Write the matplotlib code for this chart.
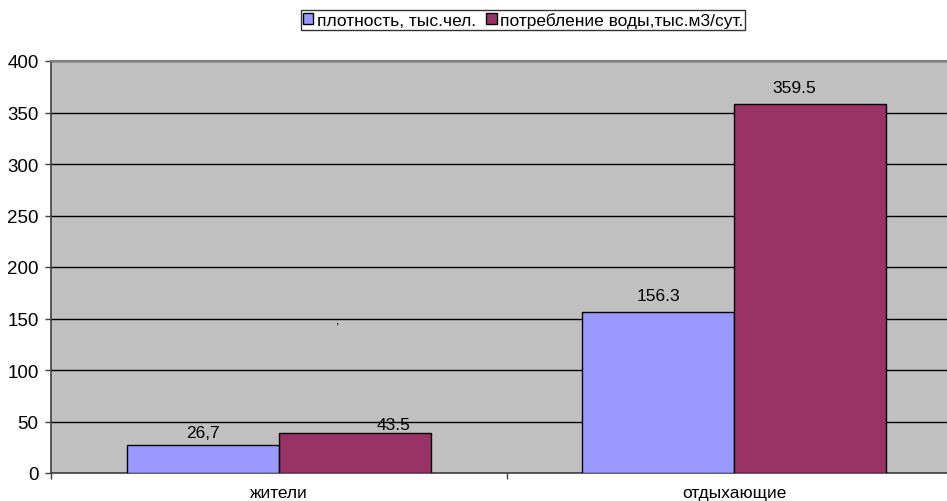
import numpy as np
import matplotlib
matplotlib.use('Agg')
import matplotlib.pyplot as plt
from matplotlib.patches import Patch

# данные
categories = ['жители', 'отдыхающие']
series_names = ['плотность, тыс.чел.', 'потребление воды,тыс.м3/сут.']
density = [26.7, 156.3]
water = [39.0, 358.5]
density_labels = ['26,7', '156.3']
water_labels = ['43.5', '359.5']
y_ticks = [0, 50, 100, 150, 200, 250, 300, 350, 400]

plt.rcParams['font.family'] = ['Liberation Sans', 'DejaVu Sans']

fig = plt.figure(figsize=(9.47, 5.02), dpi=100)
ax = fig.add_axes([51 / 947, 28 / 502, 911 / 947, 412 / 502])
ax.set_facecolor('#C0C0C0')

x = np.arange(len(categories))
w = 1 / 3
b1 = ax.bar(x - w / 2, density, w, color='#9999FF', edgecolor='black', linewidth=1, zorder=3)
b2 = ax.bar(x + w / 2, water, w, color='#993366', edgecolor='black', linewidth=1, zorder=3)

# подписи значений (смещения в точках, как в оригинале)
d_off = [(0, 4), (0, 6.5)]
w_off = [(28, 0.5), (-11.5, 6.5)]
for rect, lab, off in zip(b1, density_labels, d_off):
    ax.annotate(lab, (rect.get_x() + rect.get_width() / 2, rect.get_height()),
                xytext=off, textcoords='offset points', ha='center', va='bottom', fontsize=12.5)
for rect, lab, off in zip(b2, water_labels, w_off):
    ax.annotate(lab, (rect.get_x() + rect.get_width() / 2, rect.get_height()),
                xytext=off, textcoords='offset points', ha='center', va='bottom', fontsize=12.5)

# случайная запятая на графике
ax.text(0.13, 148, ',', ha='center', va='center', fontsize=9)

ax.set_xlim(-0.5, 1.5)
ax.set_ylim(0, 400)
ax.set_yticks(y_ticks)
ax.set_yticklabels([str(v) for v in y_ticks], fontsize=13.5)
ax.yaxis.grid(True, color='black', linewidth=1, zorder=0)
ax.set_axisbelow(True)

ax.set_xticks([-0.5, 0.5, 1.5])
ax.set_xticklabels([])
ax.set_xticks(x, minor=True)
ax.set_xticklabels(categories, minor=True, fontsize=12.5)
ax.tick_params(axis='x', which='minor', length=0, pad=9)
ax.tick_params(axis='both', which='major', direction='out', length=4, width=1, color='#404040')
ax.tick_params(axis='y', pad=5)

for s in ['left', 'bottom']:
    ax.spines[s].set_color('#404040')
    ax.spines[s].set_linewidth(1.2)
ax.spines['top'].set_color('#808080')
ax.spines['top'].set_linewidth(1.5)
ax.spines['right'].set_color('#808080')

handles = [Patch(facecolor='#9999FF', edgecolor='black'),
           Patch(facecolor='#993366', edgecolor='black')]
leg = fig.legend(handles, series_names, loc='center', bbox_to_anchor=(523 / 947, 1 - 21 / 502),
                 ncol=2, fontsize=12.5, frameon=True, fancybox=False, edgecolor='black',
                 handlelength=0.6, handleheight=0.6, handletextpad=0.2, columnspacing=0.6,
                 borderpad=0.1, borderaxespad=0)
leg.get_frame().set_linewidth(1)

plt.savefig('out.png', dpi=100)
